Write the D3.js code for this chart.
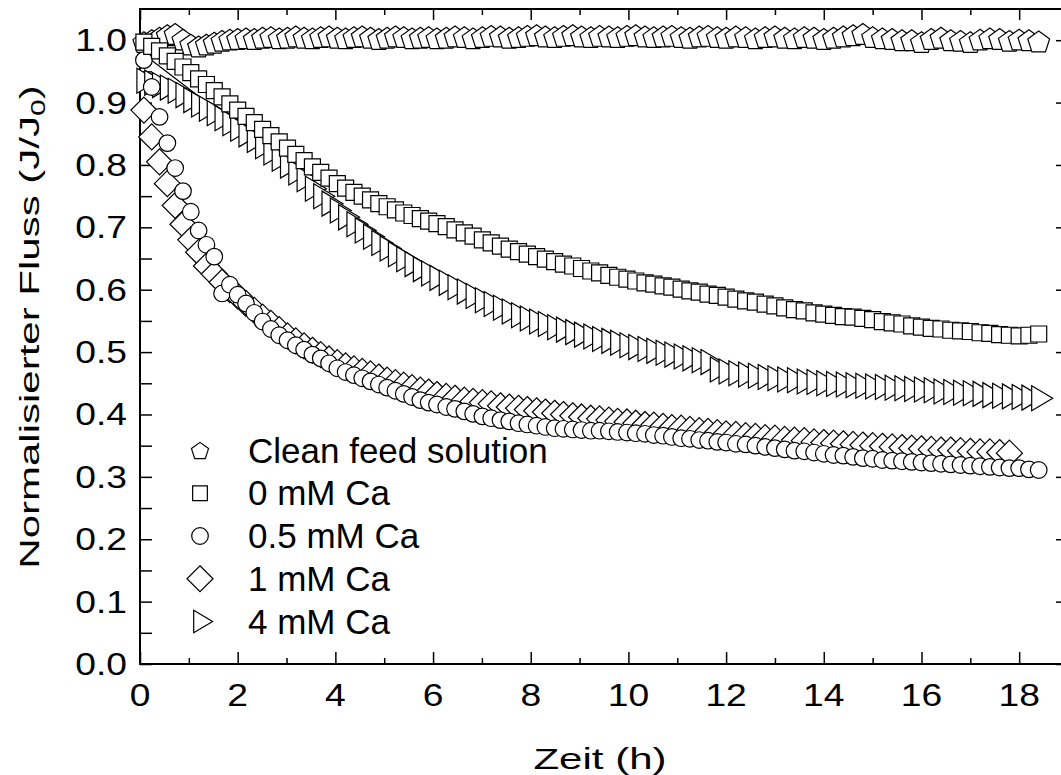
<!DOCTYPE html>
<html><head><meta charset="utf-8">
<script src="https://cdn.jsdelivr.net/npm/d3@7"></script>
<style>body{margin:0;background:#fff}svg{display:block}text{font-family:"Liberation Sans",Arial,sans-serif;fill:#000}</style>
</head><body>
<script>
// ---- data ----
const times = [0.08,0.24,0.40,0.56,0.72,0.88,1.04,1.20,1.36,1.52,1.68,1.84,2.00,
2.17,2.34,2.51,2.68,2.85,3.02,3.19,3.36,3.53,3.70,3.87,4.04,4.21,4.38,4.55,4.72,4.89,5.06,5.23,5.40,5.57,5.74,5.91,6.08,
6.27,6.45,6.64,6.82,7.01,7.19,7.38,7.56,7.75,7.93,8.12,8.30,8.49,8.67,8.86,9.04,9.23,9.41,9.60,9.78,9.97,10.15,10.34,10.52,10.71,10.89,11.08,11.26,11.45,11.63,11.82,12.00,
12.20,12.40,12.60,12.80,13.00,13.20,13.40,13.60,13.80,14.00,14.20,14.40,14.60,14.80,15.00,15.20,15.40,15.60,15.80,16.00,16.20,16.40,16.60,16.80,17.00,17.20,17.40,17.60,17.80,18.00,18.20,18.40];

const cleanFeed = [0.997,1.000,1.004,1.008,1.010,1.001,0.993,0.990,0.993,0.996,0.999,1.001,1.002,
1.003,1.002,1.004,1.005,1.003,1.004,1.006,1.004,1.003,1.005,1.006,1.004,1.003,1.005,1.006,1.004,1.002,1.004,1.006,1.005,1.003,1.004,1.005,1.003,
1.004,1.006,1.005,1.003,1.005,1.007,1.006,1.004,1.005,1.007,1.008,1.006,1.005,1.007,1.008,1.006,1.005,1.007,1.006,1.005,1.007,1.008,1.006,1.005,1.006,1.007,1.005,1.004,1.006,1.007,1.005,1.004,
1.006,1.005,1.003,1.005,1.006,1.004,1.003,1.005,1.004,1.002,1.004,1.006,1.008,1.010,1.005,1.003,1.002,1.000,1.000,0.997,1.002,1.004,1.000,0.999,0.997,1.001,1.003,1.002,0.999,1.001,1.000,0.998];

const ca0 = [0.997,0.990,0.983,0.975,0.966,0.957,0.948,0.938,0.929,0.919,0.909,0.898,0.888,
0.878,0.868,0.857,0.847,0.837,0.827,0.817,0.807,0.797,0.788,0.779,0.770,0.763,0.756,0.750,0.744,0.738,0.733,0.728,0.723,0.719,0.714,0.710,0.706,
0.701,0.696,0.691,0.686,0.680,0.675,0.670,0.665,0.661,0.657,0.653,0.649,0.645,0.641,0.638,0.634,0.630,0.627,0.623,0.620,0.617,0.614,0.611,0.609,0.606,0.604,0.601,0.598,0.596,0.593,0.591,0.588,
0.585,0.582,0.580,0.577,0.574,0.571,0.568,0.566,0.563,0.561,0.559,0.557,0.556,0.554,0.552,0.549,0.547,0.545,0.542,0.540,0.538,0.537,0.535,0.534,0.533,0.531,0.530,0.528,0.527,0.526,0.527,0.529];

const ca05 = [0.968,0.925,0.877,0.835,0.795,0.758,0.725,0.695,0.672,0.653,0.594,0.608,0.592,
0.578,0.563,0.549,0.537,0.527,0.519,0.511,0.504,0.496,0.490,0.482,0.474,0.468,0.463,0.458,0.453,0.448,0.443,0.438,0.433,0.428,0.423,0.419,0.416,
0.412,0.409,0.405,0.401,0.397,0.394,0.391,0.389,0.386,0.384,0.382,0.380,0.378,0.377,0.376,0.375,0.374,0.374,0.373,0.372,0.371,0.370,0.369,0.367,0.366,0.364,0.362,0.361,0.359,0.358,0.356,0.355,
0.353,0.352,0.350,0.348,0.346,0.344,0.342,0.341,0.339,0.337,0.335,0.334,0.332,0.330,0.329,0.327,0.326,0.325,0.324,0.323,0.322,0.321,0.320,0.319,0.318,0.317,0.316,0.315,0.314,0.314,0.312,0.311];

const ca1 = [0.888,0.845,0.805,0.770,0.735,0.705,0.680,0.660,0.638,0.625,0.612,0.600,0.590,
0.578,0.567,0.556,0.546,0.536,0.526,0.518,0.510,0.503,0.496,0.489,0.483,0.478,0.473,0.469,0.465,0.460,0.455,0.451,0.447,0.443,0.439,0.436,0.432,
0.429,0.426,0.423,0.421,0.419,0.417,0.414,0.412,0.410,0.408,0.406,0.404,0.402,0.400,0.398,0.396,0.394,0.393,0.391,0.389,0.388,0.386,0.384,0.383,0.381,0.379,0.378,0.376,0.374,0.373,0.371,0.369,
0.368,0.366,0.365,0.363,0.362,0.360,0.359,0.358,0.356,0.355,0.354,0.353,0.352,0.351,0.350,0.349,0.348,0.347,0.346,0.345,0.344,0.343,0.343,0.342,0.341,0.340,0.340,0.339,0.338];

const ca4 = [0.935,0.932,0.928,0.924,0.919,0.912,0.904,0.897,0.890,0.883,0.875,0.867,0.858,
0.849,0.840,0.830,0.820,0.810,0.799,0.788,0.777,0.762,0.750,0.738,0.727,0.716,0.705,0.695,0.685,0.675,0.666,0.657,0.649,0.641,0.633,0.626,0.619,
0.611,0.604,0.597,0.590,0.583,0.577,0.571,0.565,0.559,0.554,0.549,0.545,0.540,0.536,0.532,0.528,0.525,0.521,0.518,0.515,0.511,0.508,0.505,0.502,0.499,0.496,0.493,0.490,0.487,0.484,0.472,0.469,
0.466,0.464,0.462,0.460,0.458,0.456,0.455,0.453,0.452,0.450,0.449,0.448,0.447,0.446,0.445,0.444,0.443,0.442,0.441,0.440,0.439,0.437,0.436,0.435,0.434,0.433,0.431,0.430,0.429,0.428,0.427,0.426];

// fitted curve through the 4 mM Ca data
const fitTimes  = [0.1,1,2,3,4,5,5.8,7,8,9,10,11,12,13,14,15,16,17,18.4];
const fitValues = [0.976,0.922,0.861,0.800,0.739,0.678,0.631,0.583,0.553,0.531,0.512,0.496,0.481,0.469,0.459,0.451,0.444,0.437,0.429];

const seriesNames = ["Clean feed solution","0 mM Ca","0.5 mM Ca","1 mM Ca","4 mM Ca"];
const xTickValues = [0,2,4,6,8,10,12,14,16,18];
const xMinorValues = [1,3,5,7,9,11,13,15,17];
const yTickValues = [0,0.1,0.2,0.3,0.4,0.5,0.6,0.7,0.8,0.9,1.0];
const yTickLabels = ["0.0","0.1","0.2","0.3","0.4","0.5","0.6","0.7","0.8","0.9","1.0"];
const yMinorValues = [0.05,0.15,0.25,0.35,0.45,0.55,0.65,0.75,0.85,0.95];
const xTitle = "Zeit (h)";

// ---- drawing ----
const W = 1061, H = 775;
const L = 140, R = 1068, T = 9, B = 664;
const svg = d3.select("body").append("svg").attr("width", W).attr("height", H);
const x = d3.scaleLinear().domain([0, 19]).range([L, R]);
const y = d3.scaleLinear().domain([0, 1.05]).range([B, T]);

function axis(gen, tr, vals, size) {
  const a = svg.append("g").attr("transform", tr)
    .call(gen.tickValues(vals).tickSize(size).tickSizeOuter(0).tickFormat(""));
  a.select(".domain").remove();
  a.selectAll("line").attr("stroke", "#000").attr("stroke-width", 1.5);
}
axis(d3.axisBottom(x), `translate(0,${B})`, xTickValues, -12);
axis(d3.axisBottom(x), `translate(0,${B})`, xMinorValues, -6);
axis(d3.axisTop(x), `translate(0,${T})`, xTickValues, -11);
axis(d3.axisTop(x), `translate(0,${T})`, xMinorValues, -6);
axis(d3.axisLeft(y), `translate(${L},0)`, yTickValues, -12);
axis(d3.axisLeft(y), `translate(${L},0)`, yMinorValues, -12);
axis(d3.axisRight(y), `translate(${R},0)`, yTickValues, -12);
axis(d3.axisRight(y), `translate(${R},0)`, yMinorValues, -6);

svg.append("rect").attr("x", L).attr("y", T).attr("width", R - L).attr("height", B - T)
  .attr("fill", "none").attr("stroke", "#000").attr("stroke-width", 2);

function stretched(tx, ty, str, size, sx, anchor, rot) {
  const g = svg.append("g").attr("transform", `translate(${tx},${ty})${rot ? " rotate(" + rot + ")" : ""} scale(${sx},1)`);
  return g.append("text").attr("text-anchor", anchor).attr("font-size", size).text(str);
}
// tick labels
xTickValues.forEach(v => stretched(x(v), 706, String(v), 31, 1.2, "middle"));
yTickValues.forEach((v, i) => stretched(127, y(v) + 11, yTickLabels[i], 31, 1.2, "end"));
// titles
stretched(600, 769, xTitle, 29, 1.45, "middle");
const yt = stretched(39, 327, "", 28, 1.5, "middle", -90);
yt.append("tspan").text("Normalisierter Fluss (J/J");
yt.append("tspan").attr("font-size", 20).attr("dy", 6).text("0");
yt.append("tspan").attr("dy", -6).text(")");

// symbols
function pentagon(r) {
  const off = (r - r * Math.cos(Math.PI / 5)) / 2;
  const p = d3.range(5).map(k => {
    const a = -Math.PI / 2 + k * 2 * Math.PI / 5;
    return [r * Math.cos(a), r * Math.sin(a) + off];
  });
  return "M" + p.map(q => q.join(",")).join("L") + "Z";
}
const sym = {
  pent: s => pentagon(11.5 * s),
  square: s => { const h = 8 * s; return `M${-h},${-h}H${h}V${h}H${-h}Z`; },
  circle: s => { const r = 8.3 * s; return `M${r},0A${r},${r} 0 1,1 ${-r},0A${r},${r} 0 1,1 ${r},0Z`; },
  diamond: s => { const h = 13 * s; return `M0,${-h}L${h},0L0,${h}L${-h},0Z`; },
  tri: s => `M${-7 * s},${-12.5 * s}L${14 * s},0L${-7 * s},${12.5 * s}Z`
};

// fit line (under the markers)
svg.append("path")
  .datum(fitTimes.map((t, i) => [t, fitValues[i]]))
  .attr("d", d3.line().x(d => x(d[0])).y(d => y(d[1])).curve(d3.curveMonotoneX))
  .attr("fill", "none").attr("stroke", "#000").attr("stroke-width", 1.2);

function drawSeries(vals, shape) {
  const d = vals.map((v, i) => [times[i], v]);
  svg.append("g").selectAll("path").data(d).join("path")
    .attr("transform", p => `translate(${x(p[0])},${y(p[1])})`)
    .attr("d", sym[shape](1))
    .attr("fill", "#fff").attr("stroke", "#000").attr("stroke-width", 1.2);
}
drawSeries(cleanFeed, "pent");
drawSeries(ca4, "tri");
drawSeries(ca1, "diamond");
drawSeries(ca05, "circle");
drawSeries(ca0, "square");

// legend
const legShapes = [["pent", 0.78], ["square", 0.92], ["circle", 1], ["diamond", 1], ["tri", 0.9]];
seriesNames.forEach((name, i) => {
  const base = 462.5 + i * 42.75;
  svg.append("path").attr("transform", `translate(200,${base - 12})`)
    .attr("d", sym[legShapes[i][0]](legShapes[i][1]))
    .attr("fill", "#fff").attr("stroke", "#000").attr("stroke-width", 1.2);
  svg.append("text").attr("x", 248).attr("y", base).attr("font-size", 35).text(name);
});
</script>
</body></html>
